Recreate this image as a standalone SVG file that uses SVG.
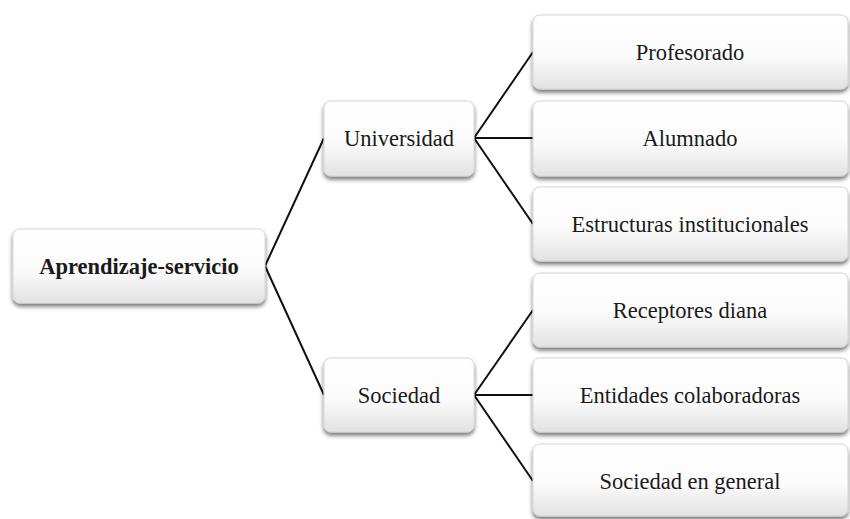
<svg xmlns="http://www.w3.org/2000/svg" width="850" height="519" viewBox="0 0 850 519">
<defs>
<linearGradient id="g" x1="0" y1="0" x2="0" y2="1">
<stop offset="0" stop-color="#ffffff"/>
<stop offset="0.55" stop-color="#fbfbfb"/>
<stop offset="1" stop-color="#e2e2e2"/>
</linearGradient>
<filter id="sh" x="-10%" y="-20%" width="120%" height="150%">
<feGaussianBlur in="SourceAlpha" stdDeviation="2"/>
<feOffset dx="0" dy="3" result="b"/>
<feComponentTransfer><feFuncA type="linear" slope="0.55"/></feComponentTransfer>
<feMerge><feMergeNode/><feMergeNode in="SourceGraphic"/></feMerge>
</filter>
</defs>
<style>
.box{fill:url(#g);stroke:#d6d6d6;stroke-width:1;filter:url(#sh)}
.t{font-family:"Liberation Serif","Times New Roman",serif;font-size:22.5px;fill:#1a1a1a;text-anchor:middle}
.b{font-weight:bold}
.c{stroke:#111;stroke-width:2;fill:none}
</style>
<rect width="850" height="519" fill="#ffffff"/>
<g id="connectors">
<path class="c" d="M265 266 L324 138 M265 266 L324 395"/>
<path class="c" d="M474 138 L533 52 M474 138 L533 138 M474 138 L533 224"/>
<path class="c" d="M474 395 L533 310 M474 395 L533 395 M474 395 L533 481"/>
</g>
<g id="n-root"><rect class="box" x="13" y="229" width="252" height="74" rx="7"/><text class="t b" x="139" y="274">Aprendizaje-servicio</text></g>
<g id="n-universidad"><rect class="box" x="324" y="101" width="150" height="75" rx="7"/><text class="t" x="399" y="146">Universidad</text></g>
<g id="n-sociedad"><rect class="box" x="324" y="358" width="150" height="74" rx="7"/><text class="t" x="399" y="403">Sociedad</text></g>
<g id="n-profesorado"><rect class="box" x="533" y="15" width="315" height="74" rx="7"/><text class="t" x="690" y="60">Profesorado</text></g>
<g id="n-alumnado"><rect class="box" x="533" y="101" width="315" height="75" rx="7"/><text class="t" x="690" y="146">Alumnado</text></g>
<g id="n-estructuras"><rect class="box" x="533" y="187" width="315" height="74" rx="7"/><text class="t" x="690" y="232">Estructuras institucionales</text></g>
<g id="n-receptores"><rect class="box" x="533" y="273" width="315" height="74" rx="7"/><text class="t" x="690" y="318">Receptores diana</text></g>
<g id="n-entidades"><rect class="box" x="533" y="358" width="315" height="74" rx="7"/><text class="t" x="690" y="403">Entidades colaboradoras</text></g>
<g id="n-sociedad-general"><rect class="box" x="533" y="444" width="315" height="72" rx="7"/><text class="t" x="690" y="489">Sociedad en general</text></g>
</svg>
